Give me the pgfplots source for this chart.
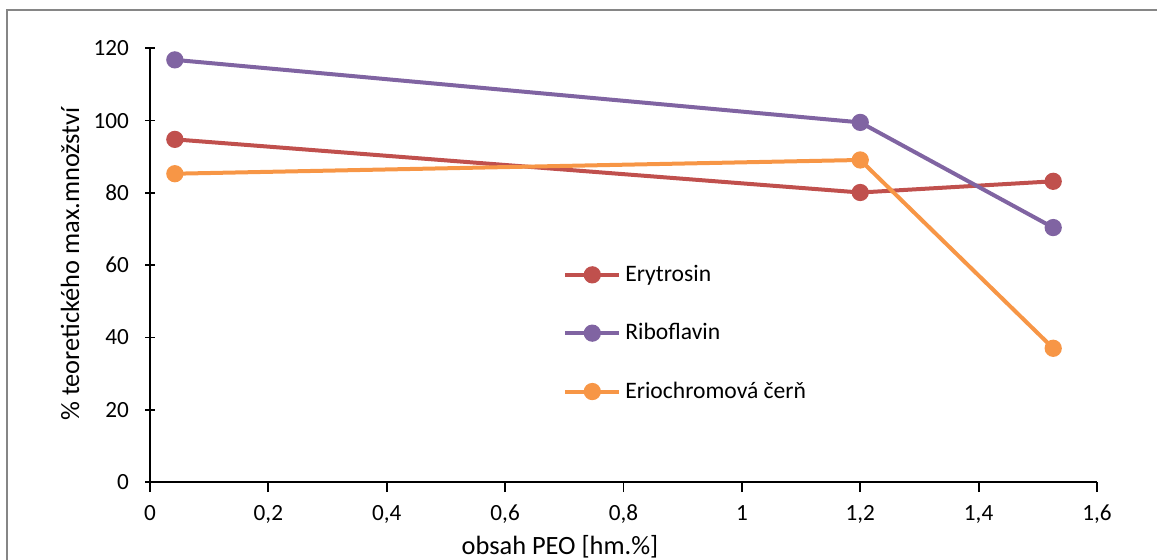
\documentclass[border=0pt]{standalone}
\usepackage{fontspec}
\setmainfont{Carlito}
\usepackage{pgfplots}
\pgfplotsset{compat=1.18}
\definecolor{cRed}{HTML}{C0504D}
\definecolor{cPur}{HTML}{8064A2}
\definecolor{cOra}{HTML}{F79646}
\definecolor{cFrame}{HTML}{868686}
\newcommand{\cf}{\fontsize{11.6}{14}\selectfont}
\newcommand{\lf}{\fontsize{11.8}{14}\selectfont}
\newcommand{\tf}{\fontsize{13.2}{15.8}\selectfont}
\begin{document}
\begin{tikzpicture}
\useasboundingbox (0,0) rectangle (578.5pt,279.5pt);
\begin{scope}
\clip (0,0) rectangle (578.5pt,279.5pt);
\draw[cFrame, line width=0.8pt] (3.5pt,-10pt) -- (3.5pt,274.5pt) -- (590pt,274.5pt);
\end{scope}
\begin{axis}[
  at={(75pt,38.5pt)}, anchor=south west,
  scale only axis, width=473.5pt, height=216.85pt,
  xmin=0, xmax=1.6, ymin=0, ymax=120,
  xtick={0,0.2,...,1.6}, ytick={0,20,...,120},
  axis lines*=left,
  axis line style={black, line width=0.9pt},
  every tick/.style={black, line width=0.9pt},
  major tick length=5pt,
  xtick align=outside, ytick align=center,
  /pgf/number format/assume math mode=true,
  /pgf/number format/use comma,
  /pgf/number format/1000 sep={},
  tick label style={font=\cf},
  xticklabel style={yshift=-3pt},
  yticklabel style={xshift=-4.5pt},
  clip=false,
  legend style={at={(0.436,0.51)}, anchor=north west, draw=none, fill=none,
    inner sep=0pt, font=\lf, row sep=15.5pt, cells={anchor=west}},
  legend image code/.code={\draw[mark repeat=2,mark phase=2] plot coordinates {(0pt,0pt) (13.5pt,0pt) (27pt,0pt)};},
  every axis plot/.append style={line width=2pt, mark=*, mark size=3.3pt},
]
\addplot[cRed, mark options={fill=cRed, draw=cRed}] coordinates {(0.042,94.8) (1.2,80.1) (1.526,83.2)};
\addlegendentry{Erytrosin}
\addplot[cPur, mark options={fill=cPur, draw=cPur}] coordinates {(0.042,116.8) (1.2,99.5) (1.526,70.4)};
\addlegendentry{Riboflavin}
\addplot[cOra, mark options={fill=cOra, draw=cOra}] coordinates {(0.042,85.3) (1.2,89.1) (1.526,37.0)};
\addlegendentry{Eriochromová čerň}
\end{axis}
\node[font=\tf] at (280pt,6pt) {obsah PEO [hm.\%]};
\node[font=\tf, rotate=90] at (35pt,147.5pt) {\% teoretického max.množství};
\end{tikzpicture}
\end{document}
